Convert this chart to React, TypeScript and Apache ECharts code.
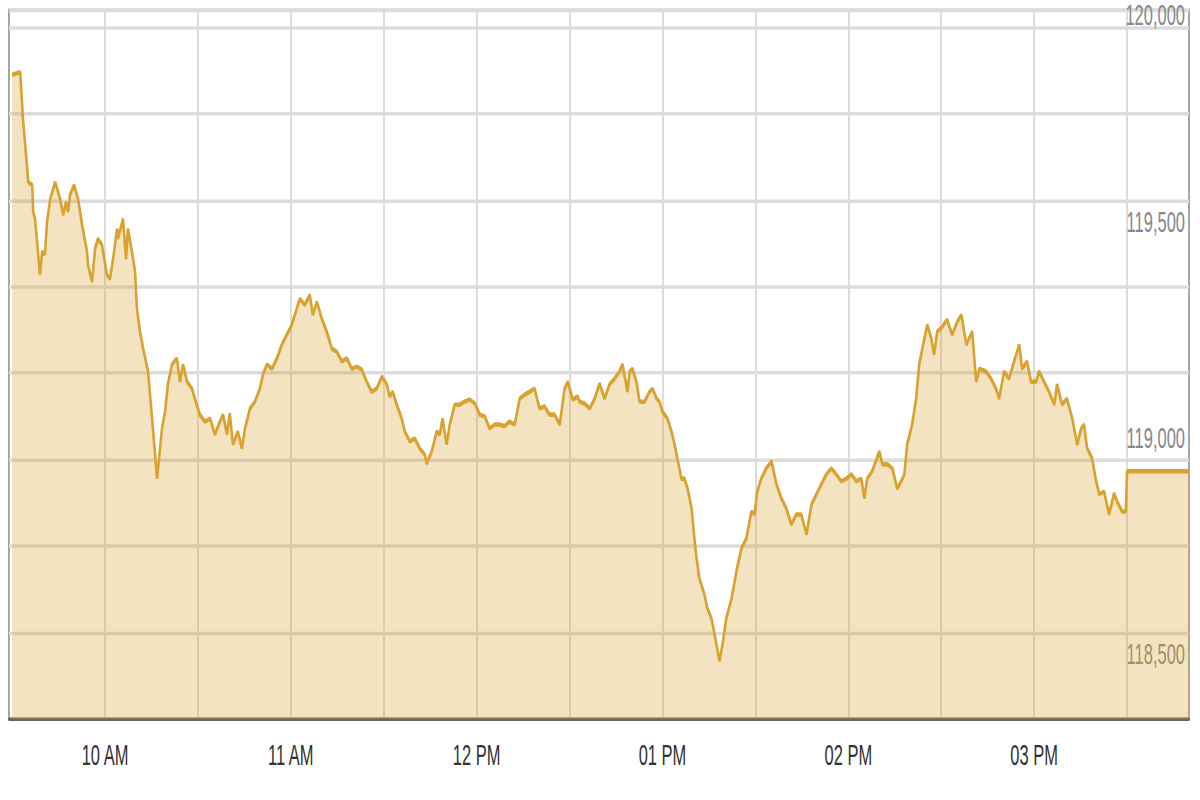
import React, { useEffect, useRef } from "react";
import * as echarts from "echarts";

const minutes = [
  0, 2.6, 3.2, 3.5, 4.8, 5.2, 6.5, 6.8, 7.4, 9.0,
  9.7, 10.6, 11.3, 12.3, 13.9, 15.5, 16.5, 17.4, 18.1, 18.7,
  20.0, 21.3, 22.6, 24.2, 24.5, 25.8, 26.8, 27.7, 29.0, 30.6,
  31.6, 32.6, 33.9, 34.2, 35.8, 36.8, 37.4, 38.7, 39.7, 40.3,
  41.3, 42.3, 43.9, 45.2, 46.8, 48.4, 49.4, 50.3, 51.6, 53.2,
  54.2, 55.2, 56.5, 58.1, 59.0, 60.6, 62.3, 63.9, 65.5, 67.1,
  68.1, 69.4, 70.3, 71.3, 72.9, 74.2, 75.2, 76.8, 78.4, 80.0,
  81.0, 82.3, 83.9, 85.5, 87.1, 88.7, 90.3, 91.9, 92.9, 94.5,
  96.1, 97.1, 98.4, 100.0, 101.6, 103.2, 104.8, 106.5, 108.1, 109.7,
  111.3, 112.9, 114.5, 116.1, 117.7, 119.4, 121.0, 121.9, 122.9, 124.2,
  125.8, 126.8, 128.4, 130.0, 131.6, 133.2, 133.9, 135.5, 137.1, 138.1,
  139.0, 140.3, 141.3, 142.9, 144.5, 146.1, 147.7, 149.4, 151.0, 152.6,
  154.2, 155.8, 157.4, 159.0, 160.6, 162.3, 163.9, 165.5, 167.1, 168.7,
  170.3, 171.9, 173.5, 175.2, 176.8, 178.4, 179.4, 181.0, 182.6, 183.2,
  184.8, 186.5, 188.1, 189.7, 191.3, 192.9, 194.5, 196.1, 197.1, 198.7,
  199.4, 200.3, 201.6, 202.6, 204.2, 205.8, 206.8, 208.1, 209.0, 210.0,
  211.6, 212.9, 213.9, 214.8, 216.1, 217.1, 218.1, 219.4, 220.3, 221.0,
  221.9, 223.5, 224.5, 225.8, 226.8, 228.4, 229.4, 230.6, 232.3, 233.9,
  235.5, 237.1, 238.7, 239.7, 240.6, 241.9, 243.5, 245.2, 246.8, 248.4,
  250.0, 251.6, 253.2, 254.8, 256.5, 258.1, 259.7, 261.3, 262.9, 264.5,
  266.1, 267.7, 269.4, 271.0, 272.6, 274.2, 275.2, 276.1, 277.7, 280.0,
  281.0, 282.6, 284.2, 285.8, 287.1, 288.1, 289.0, 290.6, 291.9, 292.9,
  293.9, 295.5, 296.8, 297.7, 298.7, 300.3, 301.9, 303.5, 305.2, 306.5,
  308.1, 310.0, 311.3, 312.3, 314.5, 316.1, 317.7, 318.7, 320.3, 321.9,
  323.5, 325.2, 326.1, 327.7, 329.0, 330.6, 331.6, 333.2, 334.8, 336.5,
  337.4, 339.0, 340.6, 342.3, 343.9, 345.2, 346.1, 347.1, 348.7, 350.0,
  351.0, 352.6, 354.2, 355.8, 356.8, 358.4, 359.6, 360.0, 380.0,
];

const prices = [
  119890, 119896, 119827, 119788, 119681, 119642, 119635, 119573, 119557, 119428,
  119481, 119475, 119550, 119603, 119642, 119603, 119566, 119596, 119573, 119612,
  119635, 119603, 119543, 119481, 119451, 119411, 119488, 119511, 119497, 119428,
  119418, 119464, 119534, 119511, 119557, 119464, 119534, 119481, 119434, 119349,
  119296, 119257, 119204, 119095, 118956, 119072, 119111, 119174, 119220, 119234,
  119180, 119220, 119180, 119164, 119141, 119104, 119088, 119095, 119058, 119088,
  119104, 119058, 119107, 119035, 119065, 119026, 119072, 119118, 119134, 119164,
  119197, 119220, 119210, 119234, 119266, 119289, 119312, 119349, 119372, 119358,
  119381, 119335, 119365, 119326, 119296, 119257, 119250, 119227, 119234, 119210,
  119215, 119208, 119180, 119157, 119164, 119192, 119174, 119146, 119157, 119127,
  119095, 119065, 119042, 119049, 119026, 119012, 118991, 119019, 119065, 119058,
  119095, 119035, 119081, 119127, 119127, 119134, 119139, 119130, 119104, 119100,
  119072, 119081, 119081, 119077, 119088, 119081, 119141, 119150, 119157, 119164,
  119118, 119123, 119104, 119104, 119081, 119164, 119180, 119139, 119146, 119134,
  119130, 119118, 119141, 119176, 119141, 119174, 119187, 119204, 119220, 119157,
  119204, 119210, 119180, 119134, 119134, 119157, 119164, 119141, 119134, 119111,
  119095, 119065, 119035, 119003, 118956, 118956, 118933, 118887, 118818, 118772,
  118726, 118689, 118656, 118633, 118596, 118534, 118573, 118633, 118679, 118742,
  118795, 118818, 118880, 118873, 118926, 118956, 118980, 118996, 118943, 118910,
  118887, 118850, 118873, 118873, 118827, 118896, 118920, 118943, 118966, 118980,
  118966, 118950, 118956, 118966, 118950, 118956, 118910, 118956, 118973, 119019,
  118989, 118989, 118980, 118933, 118950, 118966, 119035, 119081, 119141, 119220,
  119257, 119312, 119280, 119243, 119296, 119307, 119324, 119289, 119319, 119335,
  119266, 119296, 119180, 119210, 119204, 119187, 119164, 119141, 119204, 119187,
  119227, 119266, 119210, 119227, 119180, 119180, 119204, 119180, 119157, 119127,
  119174, 119127, 119141, 119095, 119035, 119072, 119081, 119026, 119003, 118950,
  118920, 118926, 118873, 118922, 118903, 118880, 118880, 118973, 118973,
];

const hourTicks = ["10:00", "11:00", "12:00", "13:00", "14:00", "15:00"];
const hourTickLabels = ["10 AM", "11 AM", "12 PM", "01 PM", "02 PM", "03 PM"];
const priceTickStep = 500;
const topCutLabel = "120,000";

const SCALE_Y = 1.75;
const W = 1200;
const H = 800 / SCALE_Y;

const SESSION_START = 9 * 60 + 29; // 09:29 at the left edge
const SESSION_END = 15 * 60 + 50; // 15:50 at the right edge

function clock(m: number): string {
  const h = Math.floor(m / 60);
  const mm = m % 60;
  return `${String(h).padStart(2, "0")}:${String(mm).padStart(2, "0")}`;
}
const minuteCategories: string[] = [];
for (let m = SESSION_START; m <= SESSION_END; m++) minuteCategories.push(clock(m));

function thousands(v: number): string {
  return String(v).replace(/\B(?=(\d{3})+(?!\d))/g, ",");
}

const FONT = "'Liberation Sans', Arial, sans-serif";

export default function App() {
  const ref = useRef<HTMLDivElement>(null);
  useEffect(() => {
    if (!ref.current) return;
    const chart = echarts.init(ref.current, null, { renderer: "svg", width: W, height: H });
    chart.setOption({
      animation: false,
      backgroundColor: "#ffffff",
      grid: {
        left: 9,
        right: 11,
        top: 10 / SCALE_Y,
        bottom: H - 719 / SCALE_Y,
        show: true,
        borderColor: "#8a8a8a",
        borderWidth: 1.5,
        backgroundColor: "transparent",
      },
      xAxis: [
        {
          type: "value",
          min: -1,
          max: 380,
          show: false,
        },
        {
          type: "category",
          data: minuteCategories,
          boundaryGap: false,
          position: "bottom",
          axisLine: { show: true, lineStyle: { color: "#666666", width: 2 } },
          axisTick: { show: false },
          axisLabel: {
            interval: (_i: number, v: string) => hourTicks.includes(v),
            formatter: (v: string) => {
              const k = hourTicks.indexOf(v);
              return k >= 0 ? hourTickLabels[k] : "";
            },
            color: "#333333",
            fontSize: 16.5,
            fontFamily: FONT,
            margin: 12,
          },
          splitLine: {
            show: true,
            interval: (_i: number, v: string) =>
              (v.endsWith(":00") || v.endsWith(":30")) && v !== "09:30",
            lineStyle: { color: "#dcdcdc", width: 2 },
          },
        },
      ],
      yAxis: [
        {
          type: "value",
          min: 118400,
          max: 120040,
          interval: 200,
          position: "left",
          axisLabel: { show: false },
          axisLine: { show: false },
          axisTick: { show: false },
          splitLine: { show: true, lineStyle: { color: "#dcdcdc", width: 2 } },
        },
        {
          type: "value",
          min: 118350,
          max: 119990,
          interval: 50,
          position: "right",
          axisLine: { show: false },
          axisTick: { show: false },
          splitLine: { show: false },
          axisLabel: {
            inside: true,
            margin: 4,
            color: "#888888",
            fontSize: 16.5,
            fontFamily: FONT,
            formatter: (v: number) => (v % priceTickStep === 0 ? thousands(v) : ""),
          },
        },
      ],
      graphic: [
        {
          type: "text",
          x: 1185,
          y: 0,
          z: 1,
          style: {
            text: topCutLabel,
            align: "right",
            verticalAlign: "top",
            fill: "#888888",
            font: `16.5px ${FONT}`,
          },
        },
      ],
      series: [
        {
          type: "line",
          xAxisIndex: 0,
          yAxisIndex: 0,
          data: minutes.map((m, i) => [m, prices[i]]),
          showSymbol: false,
          symbol: "none",
          lineStyle: { color: "#D9A332", width: 2.6 },
          areaStyle: { color: "#D9A332", opacity: 0.3 },
          z: 3,
        },
      ],
    });
    return () => chart.dispose();
  }, []);

  return (
    <div
      style={{
        position: "fixed",
        left: 0,
        top: 0,
        width: 1200,
        height: 800,
        background: "#ffffff",
        overflow: "hidden",
      }}
    >
      <div
        ref={ref}
        style={{
          width: W,
          height: H,
          transform: `scaleY(${SCALE_Y})`,
          transformOrigin: "0 0",
        }}
      />
    </div>
  );
}
